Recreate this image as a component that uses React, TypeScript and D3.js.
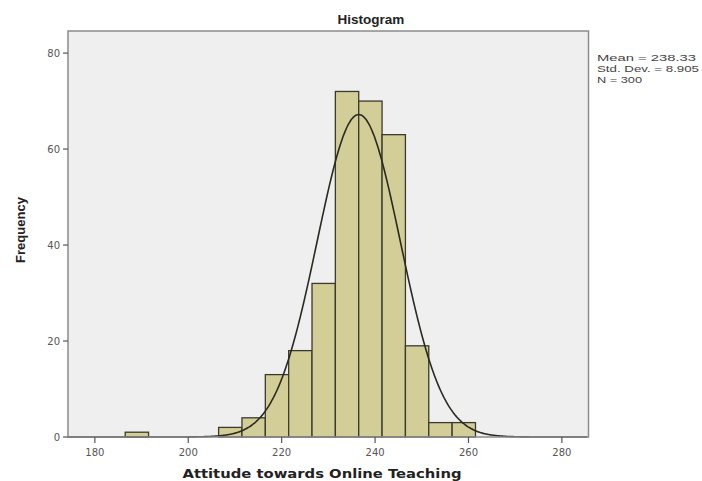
import React, { useEffect, useRef } from 'react';
import * as d3 from 'd3';

// histogram bins (center of each 5-point bin) and counts
const binCenters = [189, 209, 214, 219, 224, 229, 234, 239, 244, 249, 254, 259];
const frequencies = [1, 2, 4, 13, 18, 32, 72, 70, 63, 19, 3, 3];
const binWidth = 5;

const xTicks = [180, 200, 220, 240, 260, 280];
const yTicks = [0, 20, 40, 60, 80];

const statLabels = ['Mean = 238.33', 'Std. Dev. = 8.905', 'N = 300'];
const statWidths = [99, 102, 45];
const stdDev = 8.905;
const nCases = 300;
// where the normal curve peaks in the picture
const curveCenter = 236.5;

export default function App() {
  const ref = useRef<SVGSVGElement>(null);

  useEffect(() => {
    const width = 702;
    const height = 481;
    const plot = { left: 68, top: 31, right: 588.5, bottom: 437 };

    const svg = d3.select(ref.current);
    svg.selectAll('*').remove();
    svg.attr('width', width).attr('height', height);

    const x = d3.scaleLinear().domain([174.25, 285.7]).range([plot.left, plot.right]);
    const y = d3.scaleLinear().domain([0, 84.6]).range([plot.bottom, plot.top]);

    svg.append('rect').attr('width', width).attr('height', height).attr('fill', '#fff');

    // plot background
    svg
      .append('rect')
      .attr('x', plot.left)
      .attr('y', plot.top)
      .attr('width', plot.right - plot.left)
      .attr('height', plot.bottom - plot.top)
      .attr('fill', '#efefef');

    const data = binCenters.map((c, i) => ({ c, f: frequencies[i] }));

    svg
      .append('g')
      .selectAll('rect')
      .data(data)
      .enter()
      .append('rect')
      .attr('x', (d) => x(d.c - binWidth / 2))
      .attr('y', (d) => y(d.f))
      .attr('width', (d) => x(d.c + binWidth / 2) - x(d.c - binWidth / 2))
      .attr('height', (d) => plot.bottom - y(d.f))
      .attr('fill', '#d3ce97')
      .attr('stroke', '#3a3a2e')
      .attr('stroke-width', 1.3);

    // normal curve
    const peak = (nCases * binWidth) / (stdDev * Math.sqrt(2 * Math.PI));
    const pts = d3.range(x.domain()[0], x.domain()[1], 0.25).map((v) => [
      v,
      peak * Math.exp(-0.5 * ((v - curveCenter) / stdDev) ** 2),
    ]);
    svg
      .append('path')
      .datum(pts)
      .attr('fill', 'none')
      .attr('stroke', '#2a2a22')
      .attr('stroke-width', 1.6)
      .attr(
        'd',
        d3
          .line<number[]>()
          .x((d) => x(d[0]))
          .y((d) => y(d[1]))
          .curve(d3.curveBasis)
      );

    // frame
    svg
      .append('rect')
      .attr('x', plot.left)
      .attr('y', plot.top)
      .attr('width', plot.right - plot.left)
      .attr('height', plot.bottom - plot.top)
      .attr('fill', 'none')
      .attr('stroke', '#8c8c8c')
      .attr('stroke-width', 1.5);

    const axisFont = 'Liberation Sans, Arial, sans-serif';
    const wideFont = 'DejaVu Sans, Verdana, sans-serif';

    // y ticks
    const yg = svg.append('g');
    yg.selectAll('line')
      .data(yTicks)
      .enter()
      .append('line')
      .attr('x1', plot.left - 5)
      .attr('x2', plot.left)
      .attr('y1', (d) => y(d))
      .attr('y2', (d) => y(d))
      .attr('stroke', '#555')
      .attr('stroke-width', 1.2);
    yg.selectAll('text')
      .data(yTicks)
      .enter()
      .append('text')
      .attr('x', plot.left - 8)
      .attr('y', (d) => y(d))
      .attr('dy', '0.35em')
      .attr('text-anchor', 'end')
      .attr('font-family', wideFont)
      .attr('font-size', 10)
      .attr('fill', '#555')
      .text((d) => d);

    // x ticks
    const xg = svg.append('g');
    xg.selectAll('line')
      .data(xTicks)
      .enter()
      .append('line')
      .attr('x1', (d) => x(d))
      .attr('x2', (d) => x(d))
      .attr('y1', plot.bottom)
      .attr('y2', plot.bottom + 6)
      .attr('stroke', '#555')
      .attr('stroke-width', 1.2);
    xg.selectAll('text')
      .data(xTicks)
      .enter()
      .append('text')
      .attr('x', (d) => x(d))
      .attr('y', plot.bottom + 19)
      .attr('text-anchor', 'middle')
      .attr('font-family', wideFont)
      .attr('font-size', 10)
      .attr('fill', '#555')
      .text((d) => d);

    // titles
    svg
      .append('text')
      .attr('x', 371)
      .attr('y', 24)
      .attr('text-anchor', 'middle')
      .attr('font-family', axisFont)
      .attr('font-weight', 'bold')
      .attr('font-size', 13.5)
      .attr('fill', '#222')
      .text('Histogram');

    svg
      .append('text')
      .attr('x', 322)
      .attr('y', 478)
      .attr('text-anchor', 'middle')
      .attr('font-family', wideFont)
      .attr('font-weight', 'bold')
      .attr('font-size', 13)
      .attr('textLength', 279)
      .attr('lengthAdjust', 'spacingAndGlyphs')
      .attr('fill', '#222')
      .text('Attitude towards Online Teaching');

    svg
      .append('text')
      .attr('transform', `translate(25, 230) rotate(-90)`)
      .attr('text-anchor', 'middle')
      .attr('font-family', axisFont)
      .attr('font-weight', 'bold')
      .attr('font-size', 13)
      .attr('fill', '#222')
      .text('Frequency');

    // stats box
    svg
      .append('g')
      .selectAll('text')
      .data(statLabels)
      .enter()
      .append('text')
      .attr('x', 597)
      .attr('y', (d, i) => 61 + i * 11)
      .attr('font-family', axisFont)
      .attr('font-size', 9.5)
      .attr('textLength', (d, i) => statWidths[i])
      .attr('lengthAdjust', 'spacingAndGlyphs')
      .attr('fill', '#444')
      .text((d) => d);
  }, []);

  return (
    <div id="chartArea">
      <svg ref={ref} style={{ position: 'absolute', left: 0, top: 0 }}></svg>
    </div>
  );
}
